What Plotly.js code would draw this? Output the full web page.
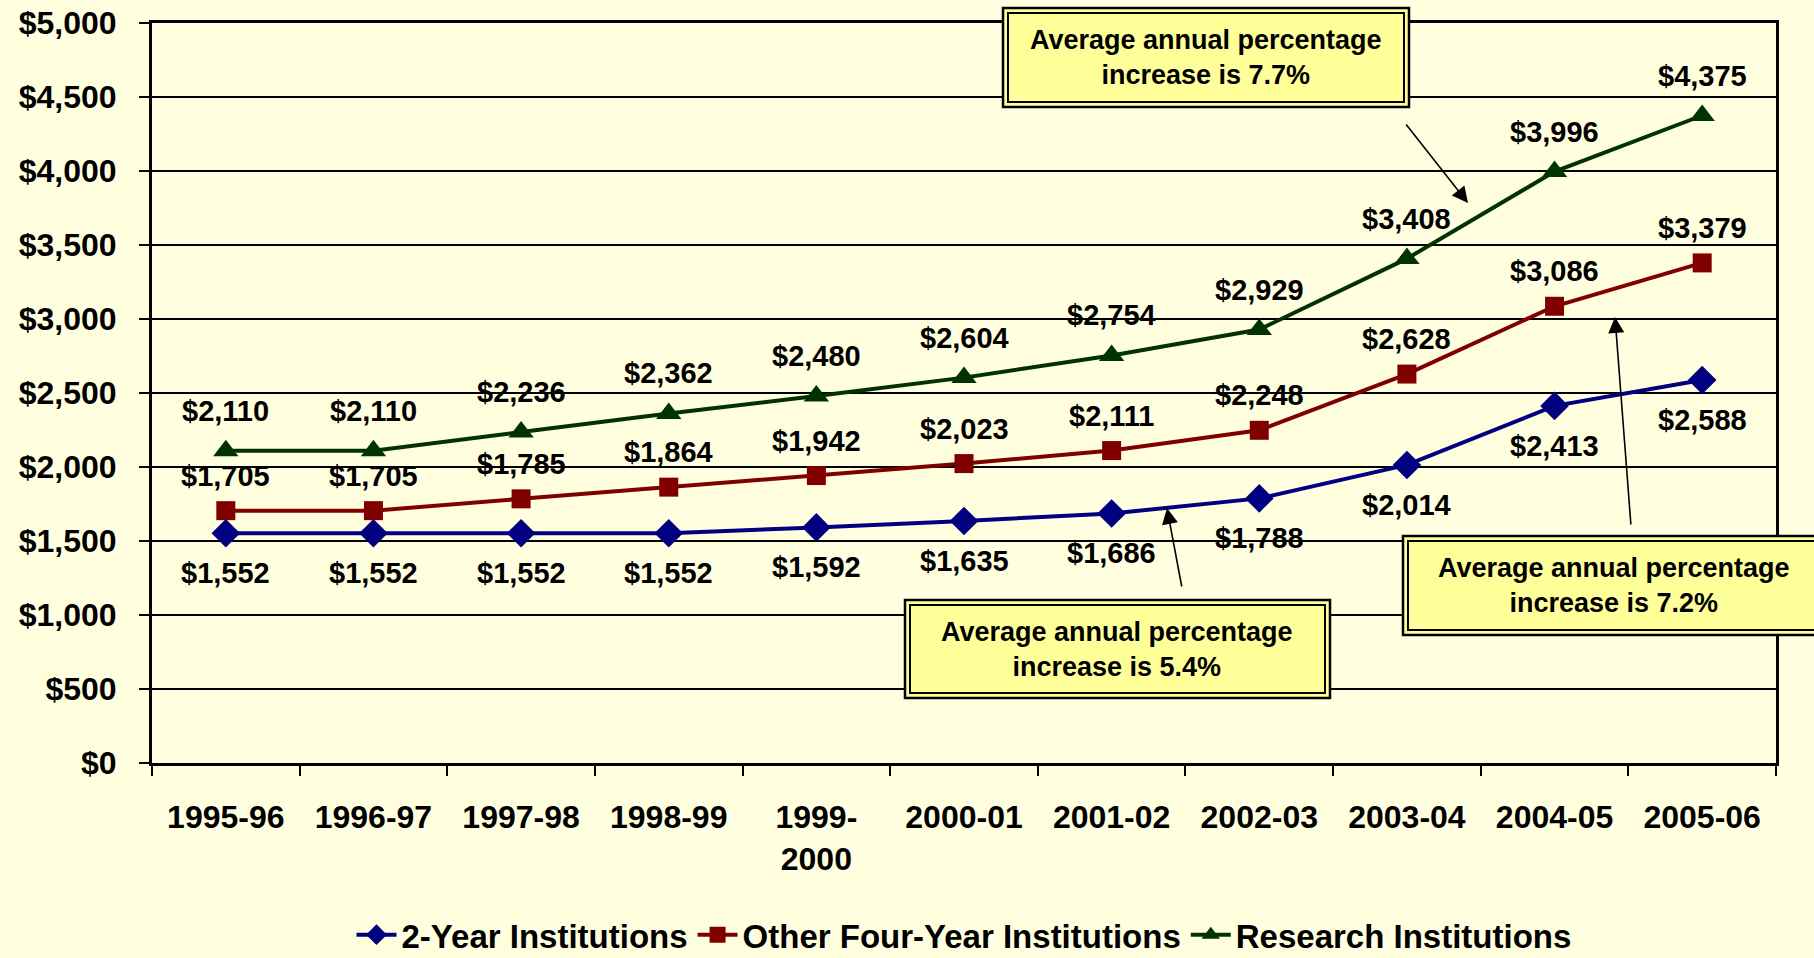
<!DOCTYPE html>
<html>
<head>
<meta charset="utf-8">
<script src="https://cdn.plot.ly/plotly-3.0.1.min.js"></script>
<style>
  html, body { margin: 0; padding: 0; background: #FFFFE0; }
  #chart { width: 1814px; height: 958px; }
</style>
</head>
<body>
<div id="chart"></div>
<script>
var years = ['1995-96', '1996-97', '1997-98', '1998-99', '1999-<br>2000', '2000-01',
             '2001-02', '2002-03', '2003-04', '2004-05', '2005-06'];

var twoYear = [1552, 1552, 1552, 1552, 1592, 1635, 1686, 1788, 2014, 2413, 2588];
var otherFour = [1705, 1705, 1785, 1864, 1942, 2023, 2111, 2248, 2628, 3086, 3379];
var research = [2110, 2110, 2236, 2362, 2480, 2604, 2754, 2929, 3408, 3996, 4375];

var seriesNames = ['2-Year Institutions', 'Other Four-Year Institutions', 'Research Institutions'];
var boxTexts = ['Average annual percentage<br>increase is 7.7%',
                'Average annual percentage<br>increase is 5.4%',
                'Average annual percentage<br>increase is 7.2%'];

var FONT = 'Liberation Sans, Arial, sans-serif';

// plot area in pixels, used to place the call-out boxes
var L = 152, T = 23, W = 1624, H = 740;
function px(x) { return (x - L) / W; }
function py(y) { return (T + H - y) / H; }

function money(v) {
  return '$' + String(v).replace(/\B(?=(\d{3})+(?!\d))/g, ',');
}

var twoTrace = {
  x: years, y: twoYear, name: seriesNames[0],
  type: 'scatter', mode: 'lines+markers',
  line: {color: '#000080', width: 4},
  marker: {symbol: 'diamond', size: 22, color: '#000080'}
};
var otherTrace = {
  x: years, y: otherFour, name: seriesNames[1],
  type: 'scatter', mode: 'lines+markers',
  line: {color: '#800000', width: 4},
  marker: {symbol: 'square', size: 19, color: '#800000'}
};
var resTrace = {
  x: years, y: research, name: seriesNames[2],
  type: 'scatter', mode: 'lines+markers',
  line: {color: '#003300', width: 4},
  marker: {symbol: 'triangle-up', size: 22, color: '#003300'}
};

// value labels
var annotations = [];
function addLabels(vals, shift) {
  vals.forEach(function (v, i) {
    annotations.push({
      x: years[i], y: v, xref: 'x', yref: 'y',
      text: money(v), showarrow: false, yshift: shift,
      font: {family: FONT, size: 29, color: '#000', weight: 'bold'}
    });
  });
}
addLabels(twoYear, -40);
addLabels(otherFour, 35);
addLabels(research, 40);

// call-out boxes (pixel rectangles) and their arrows
var boxes = [
  [1003, 8, 1409, 107],
  [905, 600, 1330, 698],
  [1403, 536, 1840, 635]
];
var boxCentres = [1206, 1117, 1614];
var arrows = [
  [1468, 203, 1405, 123],
  [1167, 508, 1182, 588],
  [1615, 317, 1631, 526]
];

var shapes = [];
boxes.forEach(function (b, i) {
  shapes.push({
    type: 'rect', xref: 'paper', yref: 'paper',
    x0: px(b[0]), x1: px(b[2]), y0: py(b[3]), y1: py(b[1]),
    line: {color: '#000', width: 2.5}, fillcolor: '#FFFF99', layer: 'above'
  });
  shapes.push({
    type: 'rect', xref: 'paper', yref: 'paper',
    x0: px(b[0] + 5), x1: px(b[2] - 5), y0: py(b[3] - 5), y1: py(b[1] + 5),
    line: {color: '#000', width: 2}, fillcolor: 'rgba(0,0,0,0)', layer: 'above'
  });
  annotations.push({
    x: px(boxCentres[i]), y: py((b[1] + b[3]) / 2), xref: 'paper', yref: 'paper',
    xanchor: 'center', yanchor: 'middle',
    text: boxTexts[i], showarrow: false, align: 'center',
    font: {family: FONT, size: 27, color: '#000', weight: 'bold'}
  });
});
arrows.forEach(function (a) {
  annotations.push({
    x: px(a[0]), y: py(a[1]), xref: 'paper', yref: 'paper',
    ax: a[2] - a[0], ay: a[3] - a[1], axref: 'pixel', ayref: 'pixel',
    text: '', showarrow: true, arrowhead: 2, arrowsize: 2, arrowwidth: 1.6,
    arrowcolor: '#000'
  });
});

var layout = {
  width: 1814, height: 958,
  paper_bgcolor: '#FFFFE0', plot_bgcolor: '#FFFFE0',
  margin: {l: L, r: 1814 - L - W, t: T, b: 958 - T - H, autoexpand: false},
  font: {family: FONT, size: 32, color: '#000', weight: 'bold'},
  showlegend: true,
  legend: {
    orientation: 'h', x: 0.5, xanchor: 'center', y: -0.232, yanchor: 'middle',
    font: {family: FONT, size: 33, color: '#000', weight: 'bold'},
    bgcolor: 'rgba(0,0,0,0)', itemwidth: 40, tracegroupgap: 0
  },
  xaxis: {
    type: 'category', tickson: 'boundaries', range: [-0.5, 10.5],
    ticks: 'outside', ticklen: 10, tickwidth: 2, tickcolor: '#000',
    showline: true, linecolor: '#000', linewidth: 3, mirror: true,
    showgrid: false, ticklabelstandoff: 24, automargin: false,
    tickfont: {family: FONT, size: 32, color: '#000', weight: 'bold'}
  },
  yaxis: {
    range: [0, 5000], dtick: 500, tickprefix: '$', tickformat: ',d',
    ticks: 'outside', ticklen: 10, tickwidth: 2, tickcolor: '#000',
    showline: true, linecolor: '#000', linewidth: 3, mirror: true,
    showgrid: true, gridcolor: '#000', gridwidth: 2, zeroline: false,
    ticklabelstandoff: 16, automargin: false,
    tickfont: {family: FONT, size: 32, color: '#000', weight: 'bold'}
  },
  shapes: shapes,
  annotations: annotations,
  hovermode: false
};

Plotly.newPlot('chart', [twoTrace, otherTrace, resTrace], layout, {displayModeBar: false, staticPlot: true});
</script>
</body>
</html>
